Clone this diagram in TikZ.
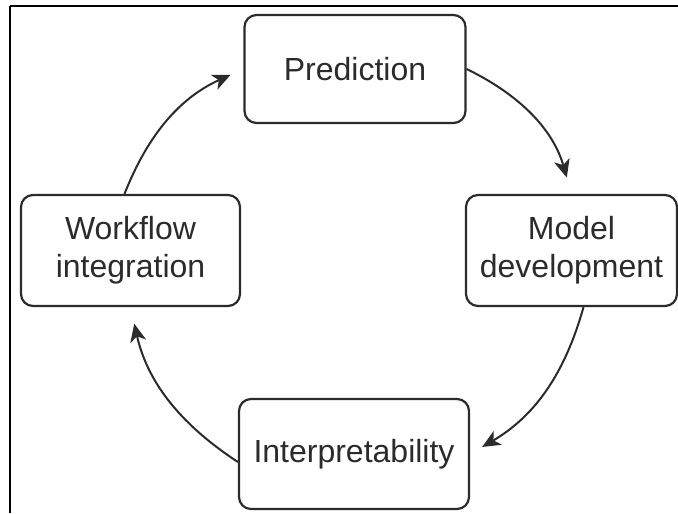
\documentclass[tikz,border=0pt]{standalone}
\usepackage{fontspec}
\setmainfont{Liberation Sans}
\usetikzlibrary{arrows.meta}
\definecolor{inkgray}{HTML}{2B2B2B}
\tikzset{
  stage/.style={draw=inkgray, line width=1.1pt, rounded corners=6pt, align=center,
    text=inkgray, font=\fontsize{16}{19}\selectfont, inner sep=0pt},
  cycarrow/.style={draw=inkgray, line width=1pt, -{Stealth[length=9pt,width=8pt,inset=2.5pt]}}
}
\begin{document}
\begin{tikzpicture}[x=0.5pt, y=-0.5pt]
           \useasboundingbox (0,0) rectangle (678,513);
           \draw[line width=1.1pt] (10,6)--(678,6);
           \draw[line width=1.1pt] (10,6)--(10,513);
           \node[stage, minimum width=110.5pt, minimum height=54pt] (pred) at (355,69) {Prediction};
           \node[stage, minimum width=105.5pt, minimum height=55.5pt] (model) at (571.5,250.5) {Model\\development};
           \node[stage, minimum width=109.5pt, minimum height=55.5pt] (work) at (130.5,250.5) {Workflow\\integration};
           \node[stage, minimum width=115pt, minimum height=55pt] (interp) at (354,454) {Interpretability};
           \draw[cycarrow, shorten >=8.5pt] (pred.east) to[bend left=24] (model.north);
           \draw[cycarrow, shorten >=7pt] ([xshift=6pt]model.south) to[bend left=22] (interp.east);
           \draw[cycarrow, shorten >=8.5pt] ([yshift=-4pt]interp.west) to[bend left=22] (work.south);
           \draw[cycarrow, shorten >=7pt] ([xshift=-3pt]work.north) to[bend left=22] (pred.west);
       \end{tikzpicture}
\end{document}
